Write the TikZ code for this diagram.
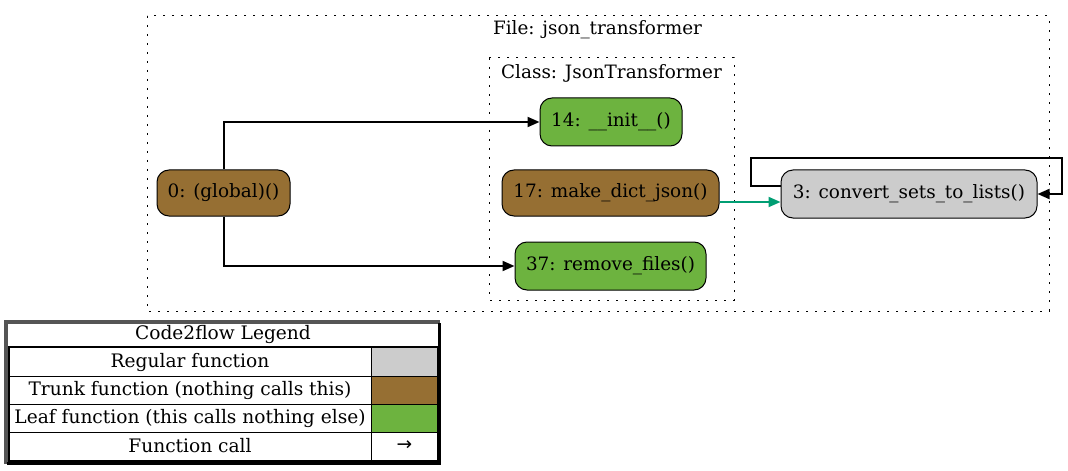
\documentclass[tikz,border=0pt]{standalone}
\usepackage{fontspec}
\setmainfont{DejaVu Serif}
\newfontfamily\symfont{DejaVu Sans}
\usetikzlibrary{arrows.meta}
\definecolor{leafgreen}{HTML}{6DB33F}
\definecolor{trunkbrown}{HTML}{966F33}
\definecolor{reggray}{HTML}{CCCCCC}
\definecolor{calledge}{HTML}{009E73}
\definecolor{legborder}{HTML}{555555}
\tikzset{
  fn/.style={draw=black, line width=0.5pt, rounded corners=6pt, inner sep=0pt,
    minimum height=24pt, font=\fontsize{9.2}{11}\selectfont, text=black},
  cluster/.style={draw=black, line width=0.5pt, dash pattern=on 0.8pt off 3.7pt},
  clabel/.style={font=\fontsize{9.2}{11}\selectfont, inner sep=0pt},
  call/.style={line width=1pt, -{Triangle[length=6pt,width=5pt]}},
  legtext/.style={font=\fontsize{9.3}{11}\selectfont, inner sep=0pt},
  cell/.style={draw=black, line width=0.5pt},
}
\begin{document}
\begin{tikzpicture}[x=0.5pt,y=-0.5pt]
\useasboundingbox (0,0) rectangle (1068,470);
% clusters
\draw[cluster] (147,16) rectangle (1049,311);
\node[clabel] (filelabel) at (597.5,30) {File: json\_transformer};
\draw[cluster] (489,58) rectangle (734,300);
\node[clabel] (classlabel) at (611.5,73) {Class: JsonTransformer};
% nodes
\node[fn, fill=leafgreen, minimum width=71pt] (n14) at (611,122) {14: \_\_init\_\_()};
\node[fn, fill=trunkbrown, minimum width=108.5pt, minimum height=23pt] (n17) at (610.5,193) {17: make\_dict\_json()};
\node[fn, fill=leafgreen, minimum width=95.5pt] (n37) at (610.5,266) {37: remove\_files()};
\node[fn, fill=trunkbrown, minimum width=66.5pt, minimum height=23pt] (n0) at (223.5,193) {0: (global)()};
\node[fn, fill=reggray, minimum width=128pt] (n3) at (909,194) {3: convert\_sets\_to\_lists()};
% edges
\draw[call] (n0.north) |- (n14.west);
\draw[call] (n0.south) |- (n37.west);
\draw[call, draw=calledge, fill=calledge] ([yshift=-4.5pt]n17.east) -- ([yshift=-4pt]n3.west);
\coordinate (l1) at (751,186);
\coordinate (l2) at (751,158);
\coordinate (l3) at (1062,158);
\coordinate (l4) at (1062,194);
\draw[call] ([yshift=4pt]n3.west) -- (l1) -- (l2) -- (l3) -- (l4) -- (n3.east);
% legend
\fill[white] (5,321) rectangle (441,465);
\draw[legborder, line width=2pt] (6,464) -- (6,322) -- (440,322);
\draw[black, line width=1.5pt] (6.5,463.5) -- (439.5,463.5) -- (439.5,322.5);
\node[legtext] (legtitle) at (223,334) {Code2flow Legend};
\fill[reggray] (371,347) rectangle (438,376);
\fill[trunkbrown] (371,376) rectangle (438,404);
\fill[leafgreen] (371,404) rectangle (438,432);
\draw[cell] (9,376) -- (438,376);
\draw[cell] (9,404) -- (438,404);
\draw[cell] (9,432) -- (438,432);
\draw[cell] (371,347) -- (371,461);
\draw[black, line width=1pt] (9,347) rectangle (438,461);
\node[legtext] (lreg) at (190,362) {Regular function};
\node[legtext] (ltrunk) at (190,390) {Trunk function (nothing calls this)};
\node[legtext] (lleaf) at (190,418) {Leaf function (this calls nothing else)};
\node[legtext] (lcall) at (190,446) {Function call};
\node[legtext] (larrow) at (404.5,446) {\symfont →};
\end{tikzpicture}
\end{document}
